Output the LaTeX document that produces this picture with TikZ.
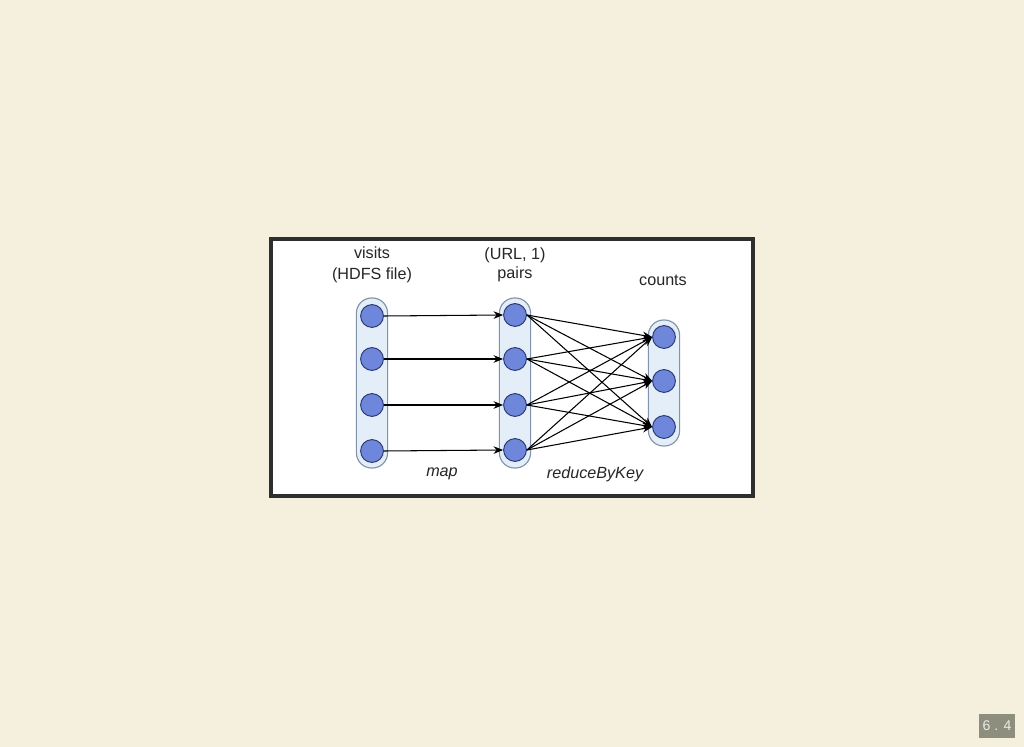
\documentclass[tikz,border=0pt]{standalone}
\usepackage{fontspec}
\setmainfont{Liberation Sans}
\usetikzlibrary{arrows.meta, positioning}

\definecolor{pagebg}{HTML}{F5F0DE}
\definecolor{frameline}{HTML}{2E2E2E}
\definecolor{capfill}{HTML}{E4EEF9}
\definecolor{capline}{HTML}{8292A8}
\definecolor{itemfill}{HTML}{6E87DA}
\definecolor{itemline}{HTML}{2C3A78}
\definecolor{pagenum}{HTML}{8E8E7E}

\begin{document}
\begin{tikzpicture}[
  x=0.025cm, y=-0.025cm,
  every node/.style={font=\fontsize{11.5}{15}\selectfont},
  % Styles
  frame/.style={draw=frameline, fill=white, line width=2.2pt},
  capsule/.style={rectangle, draw=capline, fill=capfill, line width=0.8pt, rounded corners=0.38cm, minimum width=0.78cm, inner sep=0pt},
  item/.style={circle, draw=itemline, fill=itemfill, line width=0.7pt, minimum size=0.57cm, inner sep=0pt},
  title/.style={align=center, text=black!85},
  stage/.style={font=\fontsize{11.5}{15}\selectfont\itshape, text=black!85},
  arr/.style={-{Stealth[length=2.4mm, width=1.9mm]}, line width=0.75pt},
]

  % ── PAGE AND FRAME ────────────────────────────────────────
  \fill[pagebg] (0,0) rectangle (1024,747);
  \useasboundingbox (0,0) rectangle (1024,747);
  \draw[frame] (271,239) rectangle (753,496);

  % ── COLUMNS ───────────────────────────────────────────────
  \node[capsule, minimum height=4.25cm] (visitscol) at (372,383) {};
  \node[capsule, minimum height=4.25cm] (pairscol) at (515,383) {};
  \node[capsule, minimum height=3.15cm] (countscol) at (664,383) {};

  % Column titles
  \node[title] (visitslbl) at (372,265) {visits\\(HDFS file)};
  \node[title, font=\fontsize{11.5}{13.5}\selectfont] (pairslbl) at (515,265) {(URL, 1)\\pairs};
  \node[title] (countslbl) at (663,280) {counts};

  % ── ITEMS ─────────────────────────────────────────────────
  % Input records
  \node[item] (v1) at (372,316) {};
  \node[item] (v2) at (372,359) {};
  \node[item] (v3) at (372,405) {};
  \node[item] (v4) at (372,451) {};

  % Key/value pairs
  \node[item] (p1) at (515,315) {};
  \node[item] (p2) at (515,359) {};
  \node[item] (p3) at (515,405) {};
  \node[item] (p4) at (515,450) {};

  % Counts per key
  \node[item] (c1) at (664,337) {};
  \node[item] (c2) at (664,381) {};
  \node[item] (c3) at (664,427) {};

  % ── ARROWS ────────────────────────────────────────────────
  % map
  \draw[arr] (v1.east) -- (p1.west);
  \draw[arr] (v2.east) -- (p2.west);
  \draw[arr] (v3.east) -- (p3.west);
  \draw[arr] (v4.east) -- (p4.west);

  % reduceByKey
  \draw[arr] (p1.east) -- (c1.west);
  \draw[arr] (p1.east) -- (c2.west);
  \draw[arr] (p1.east) -- (c3.west);
  \draw[arr] (p2.east) -- (c1.west);
  \draw[arr] (p2.east) -- (c2.west);
  \draw[arr] (p2.east) -- (c3.west);
  \draw[arr] (p3.east) -- (c1.west);
  \draw[arr] (p3.east) -- (c2.west);
  \draw[arr] (p3.east) -- (c3.west);
  \draw[arr] (p4.east) -- (c1.west);
  \draw[arr] (p4.east) -- (c2.west);
  \draw[arr] (p4.east) -- (c3.west);

  % ── STAGE LABELS ──────────────────────────────────────────
  \node[stage] (maplbl) at (442,474) {map};
  \node[stage] (reducelbl) at (595,474) {reduceByKey};

  % ── SLIDE NUMBER ──────────────────────────────────────────
  \node[fill=pagenum, text=white!92!black, font=\fontsize{10}{12}\selectfont, minimum width=0.9cm, minimum height=0.6cm, inner sep=0pt] (slidenum) at (997,726) {6 . 4};

\end{tikzpicture}
\end{document}
